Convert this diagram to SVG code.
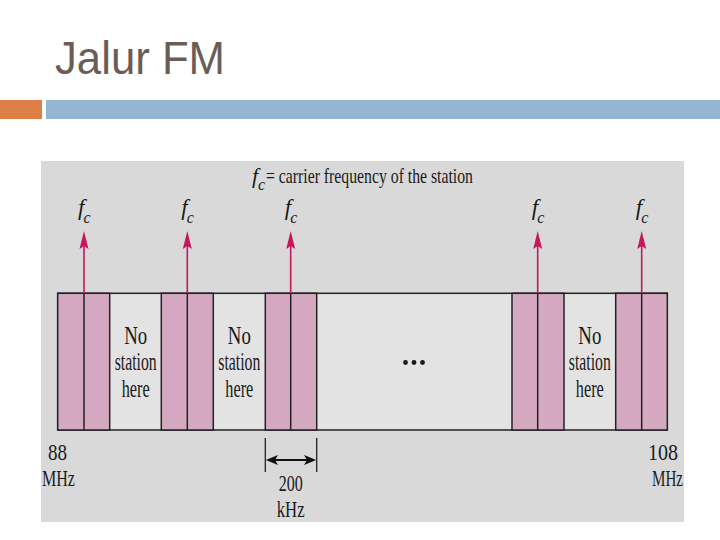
<svg xmlns="http://www.w3.org/2000/svg" width="720" height="540" viewBox="0 0 720 540">
<style>
.title{font-family:"Liberation Sans",Arial,sans-serif;font-size:46px;fill:#6b5d56}
.t{font-family:"Liberation Serif","Times New Roman",serif;fill:#1a1a1a}
.it{font-style:italic}
.pink{fill:#d4a8c0;stroke:#222;stroke-width:1.5}
.gap{fill:#e3e3e3;stroke:#222;stroke-width:1.5}
.div{stroke:#222;stroke-width:1.5}
.arr{stroke:#c5175b;stroke-width:1.6;fill:none}
.ah{fill:#c5175b}
.lbl{font-size:25px;text-anchor:middle}
</style>
<rect width="720" height="540" fill="#ffffff"/>
<g id="header">
<text class="title" x="55" y="74" textLength="170" lengthAdjust="spacingAndGlyphs">Jalur FM</text>
<rect x="0" y="100" width="42" height="19" fill="#dd8047"/>
<rect x="46" y="100" width="674" height="19" fill="#94b6d2"/>
</g>
<rect id="panel" x="41" y="161" width="643" height="361" fill="#d9d9d9"/>
<g id="legend">
<text class="t it" x="252" y="183" font-size="22">f</text>
<text class="t it" x="258" y="190" font-size="16">c</text>
<text class="t" x="266" y="183" font-size="21" textLength="207" lengthAdjust="spacingAndGlyphs">= carrier frequency of the station</text>
</g>
<g id="band">
<rect class="gap" x="57.7" y="293.3" width="609.6" height="136.7"/>
</g>
<g id="station1"><rect class="pink" x="57.7" y="293.3" width="52" height="136.7"/><line class="div" x1="84" y1="293.3" x2="84" y2="430"/></g>
<g id="station2"><rect class="pink" x="161.3" y="293.3" width="52" height="136.7"/><line class="div" x1="187.3" y1="293.3" x2="187.3" y2="430"/></g>
<g id="station3"><rect class="pink" x="265.3" y="293.3" width="51.4" height="136.7"/><line class="div" x1="290.7" y1="293.3" x2="290.7" y2="430"/></g>
<g id="station4"><rect class="pink" x="512" y="293.3" width="52" height="136.7"/><line class="div" x1="537.7" y1="293.3" x2="537.7" y2="430"/></g>
<g id="station5"><rect class="pink" x="615.7" y="293.3" width="51.6" height="136.7"/><line class="div" x1="641.7" y1="293.3" x2="641.7" y2="430"/></g>
<g id="empty1" class="t lbl">
<text x="135.7" y="344" textLength="23" lengthAdjust="spacingAndGlyphs">No</text>
<text x="135.7" y="370" textLength="42" lengthAdjust="spacingAndGlyphs">station</text>
<text x="135.7" y="397" textLength="28" lengthAdjust="spacingAndGlyphs">here</text>
</g>
<g id="empty2" class="t lbl">
<text x="239.3" y="344" textLength="23" lengthAdjust="spacingAndGlyphs">No</text>
<text x="239.3" y="370" textLength="42" lengthAdjust="spacingAndGlyphs">station</text>
<text x="239.3" y="397" textLength="28" lengthAdjust="spacingAndGlyphs">here</text>
</g>
<g id="empty3" class="t lbl">
<text x="589.8" y="344" textLength="23" lengthAdjust="spacingAndGlyphs">No</text>
<text x="589.8" y="370" textLength="42" lengthAdjust="spacingAndGlyphs">station</text>
<text x="589.8" y="397" textLength="28" lengthAdjust="spacingAndGlyphs">here</text>
</g>
<g id="ellipsis" fill="#1a1a1a">
<circle cx="405.5" cy="362.5" r="2.4"/><circle cx="414" cy="362.5" r="2.4"/><circle cx="422.5" cy="362.5" r="2.4"/>
</g>
<g id="fc-labels" class="t it">
<text x="78" y="215" font-size="23">f</text><text x="83.5" y="223" font-size="16">c</text>
<text x="181.3" y="215" font-size="23">f</text><text x="186.8" y="223" font-size="16">c</text>
<text x="284.7" y="215" font-size="23">f</text><text x="290.2" y="223" font-size="16">c</text>
<text x="531.7" y="215" font-size="23">f</text><text x="537.2" y="223" font-size="16">c</text>
<text x="635.7" y="215" font-size="23">f</text><text x="641.2" y="223" font-size="16">c</text>
</g>
<g id="connectors">
<line class="arr" x1="84" y1="293.3" x2="84" y2="245"/>
<path class="ah" d="M84 231 L88.5 249 L84 246 L79.5 249 Z"/>
<line class="arr" x1="187.3" y1="293.3" x2="187.3" y2="245"/>
<path class="ah" d="M187.3 231 L191.8 249 L187.3 246 L182.8 249 Z"/>
<line class="arr" x1="290.7" y1="293.3" x2="290.7" y2="245"/>
<path class="ah" d="M290.7 231 L295.2 249 L290.7 246 L286.2 249 Z"/>
<line class="arr" x1="537.7" y1="293.3" x2="537.7" y2="245"/>
<path class="ah" d="M537.7 231 L542.2 249 L537.7 246 L533.2 249 Z"/>
<line class="arr" x1="641.7" y1="293.3" x2="641.7" y2="245"/>
<path class="ah" d="M641.7 231 L646.2 249 L641.7 246 L637.2 249 Z"/>
<line x1="265.3" y1="438" x2="265.3" y2="472" stroke="#222" stroke-width="1.3"/>
<line x1="316.7" y1="438" x2="316.7" y2="472" stroke="#222" stroke-width="1.3"/>
<line x1="272" y1="460" x2="310" y2="460" stroke="#111" stroke-width="2"/>
<path d="M265.8 460 L278 455 L275 460 L278 465 Z" fill="#111"/>
<path d="M316.2 460 L304 455 L307 460 L304 465 Z" fill="#111"/>
</g>
<g id="axis-labels" class="t" font-size="23">
<text x="57.5" y="460" text-anchor="middle" textLength="19" lengthAdjust="spacingAndGlyphs">88</text>
<text x="58.5" y="486" text-anchor="middle" textLength="33" lengthAdjust="spacingAndGlyphs">MHz</text>
<text x="678" y="460" text-anchor="end" textLength="30" lengthAdjust="spacingAndGlyphs">108</text>
<text x="683" y="486" text-anchor="end" textLength="31" lengthAdjust="spacingAndGlyphs">MHz</text>
<text x="290.7" y="491" text-anchor="middle" textLength="24" lengthAdjust="spacingAndGlyphs">200</text>
<text x="290.7" y="517" text-anchor="middle" textLength="28" lengthAdjust="spacingAndGlyphs">kHz</text>
</g>
</svg>
